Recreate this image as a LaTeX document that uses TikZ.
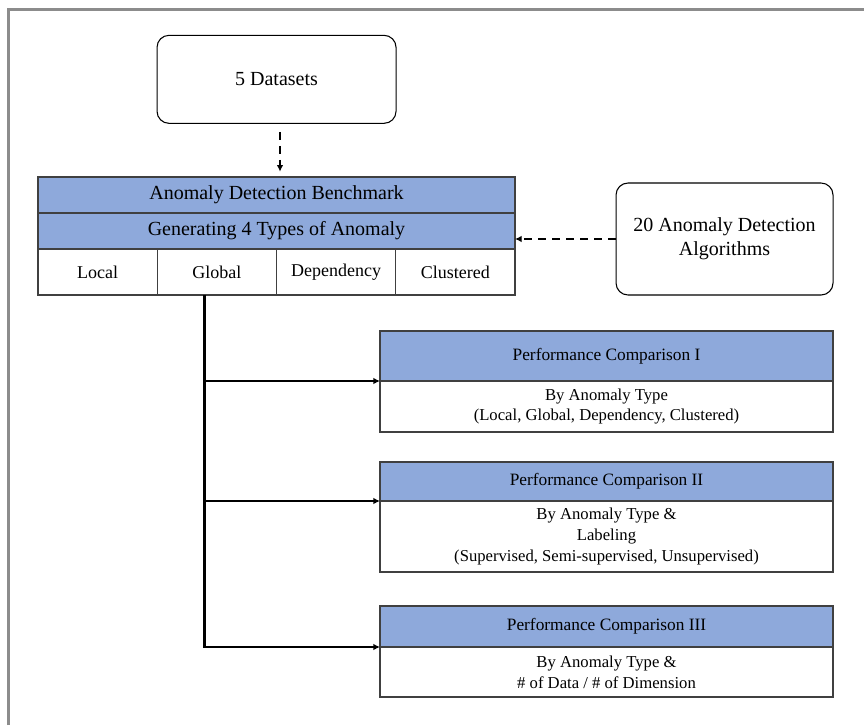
\documentclass[tikz,border=0pt]{standalone}
\usepackage{fontspec}
\setmainfont{Liberation Serif}
\usetikzlibrary{arrows.meta,calc}
\definecolor{hdrblue}{RGB}{142,169,219}
\definecolor{framegray}{RGB}{140,140,140}
\tikzset{
  roundbox/.style={draw=black, line width=0.8pt, rounded corners=9pt, align=center,
    inner sep=0pt, font=\fontsize{15}{18}\selectfont},
  hdr/.style={draw=black!75, line width=0.8pt, fill=hdrblue, inner sep=0pt, outer sep=0pt,
    font=\fontsize{15}{18}\selectfont},
  cell/.style={draw=black!75, line width=0.8pt, fill=white, inner sep=0pt, outer sep=0pt,
    minimum width=89.44pt, minimum height=34.5pt, font=\fontsize{13.5}{16}\selectfont},
  pchead/.style={draw=black!75, line width=0.8pt, fill=hdrblue, inner sep=0pt, outer sep=0pt,
    minimum width=339.75pt, font=\fontsize{13}{15.6}\selectfont},
  pcbody/.style={draw=black!75, line width=0.8pt, fill=white, inner sep=0pt, outer sep=0pt,
    minimum width=339.75pt, align=center, font=\fontsize{12.5}{15.6}\selectfont},
  dasharrow/.style={line width=2pt, dash pattern=on 6pt off 4.5pt, -{Latex[length=5pt,width=5pt]}},
  connarrow/.style={line width=2.2pt, -{Latex[length=5pt,width=5pt]}}
}

\begin{document}
\begin{tikzpicture}[x=1pt, y=1pt]
    \useasboundingbox [fill=white] (0,0) rectangle (648,-543.75);

    % outer frame
    \draw [framegray, line width=2pt] (6.5,-543.75) -- (6.5,-7) -- (648,-7);

    % sources
    \node [roundbox, minimum width=179.25pt, minimum height=66pt] (data) at (207.4,-59.5) {5 Datasets};
    \node [roundbox, minimum width=162.75pt, minimum height=84pt] (algo) at (543.4,-179.25)
      {20 Anomaly Detection\\Algorithms};

    % benchmark table
    \node [hdr, minimum width=357.75pt, minimum height=27pt, anchor=north west] (bench) at (28.5,-132.75)
      {Anomaly Detection Benchmark};
    \node [hdr, minimum width=357.75pt, minimum height=27pt, anchor=north] (gen) at (bench.south)
      {Generating 4 Types of Anomaly};
    \node [cell, anchor=north west] (local) at (gen.south west) {Local};
    \node [cell, anchor=west] (global) at (local.east) {Global};
    \node [cell, anchor=west] (dep) at (global.east) {Dependency};
    \node [cell, anchor=west] (clust) at (dep.east) {Clustered};

    % comparisons
    \node [pchead, minimum height=37.5pt, anchor=north west] (pcIh) at (285,-248.25)
      {Performance Comparison I};
    \node [pcbody, minimum height=38.25pt, anchor=north] (pcIb) at (pcIh.south)
      {By Anomaly Type\\(Local, Global, Dependency, Clustered)};
    \node [pchead, minimum height=29.25pt, anchor=north west] (pcIIh) at (285,-346.5)
      {Performance Comparison II};
    \node [pcbody, minimum height=53.25pt, anchor=north] (pcIIb) at (pcIIh.south)
      {By Anomaly Type \&\\Labeling\\(Supervised, Semi-supervised, Unsupervised)};
    \node [pchead, minimum height=30.75pt, anchor=north west] (pcIIIh) at (285,-454.5)
      {Performance Comparison III};
    \node [pcbody, minimum height=37.5pt, anchor=north] (pcIIIb) at (pcIIIh.south)
      {By Anomaly Type \&\\\# of Data / \# of Dimension};

    % connectors
    \draw [dasharrow, shorten <=6pt, shorten >=4pt] (data.south -| 210,0) -- (bench.north -| 210,0);
    \draw [dasharrow] (algo.west) -- (algo.west -| bench.east);
    \coordinate (trunk) at ($(global.south west)+(35.25pt,0)$);
    \draw [connarrow] (trunk) |- (pcIIIh.south west);
    \draw [connarrow] (trunk |- pcIh.south west) -- (pcIh.south west);
    \draw [connarrow] (trunk |- pcIIh.south west) -- (pcIIh.south west);
\end{tikzpicture}
\end{document}
